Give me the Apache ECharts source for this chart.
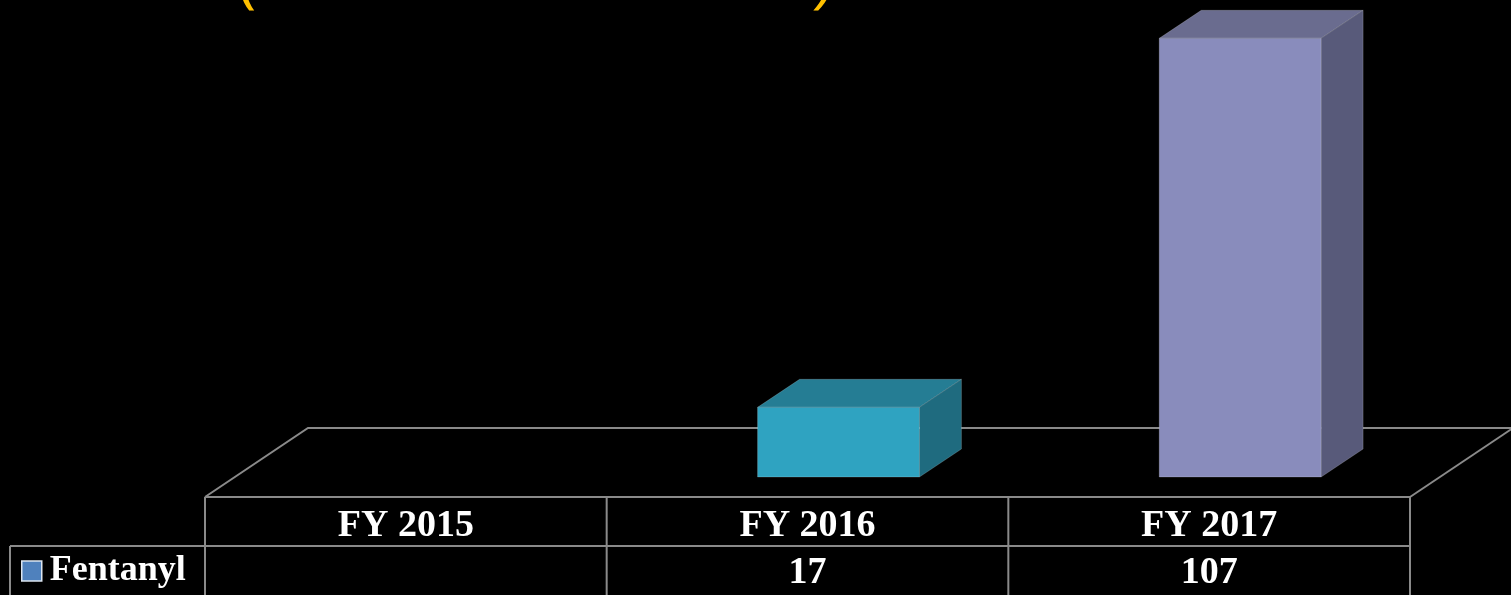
<!DOCTYPE html>
<html>
<head>
<meta charset="utf-8">
<script src="https://cdn.jsdelivr.net/npm/echarts@6/dist/echarts.min.js"></script>
<style>
html, body { margin: 0; padding: 0; background: #000; }
#main { width: 1511px; height: 595px; }
</style>
</head>
<body>
<div id="main"></div>
<script>
// data
var categories = ['FY 2015', 'FY 2016', 'FY 2017'];
var fentanyl = [null, 17, 107];
var seriesName = 'Fentanyl';

// bar colours (front / top / side) for each year
var frontColors = ['#4F81BD', '#2FA3C1', '#898CBC'];
var topColors = ['#3C6595', '#257D94', '#6A6C8F'];
var sideColors = ['#325478', '#1F6B7F', '#585A7A'];

var lineColor = '#8A8A8A';
var textFont = 'bold 38px "Liberation Serif", "Times New Roman", serif';

// 3d look
var floorDx = 103, floorDy = 69, floorDrop = 20;
var barDx = 42, barDy = 28, barShift = 31;
var rowH = 49;

// floor of the chart
function renderFloor(params, api) {
    var cs = params.coordSys;
    var zeroY = cs.y + cs.height;
    var fy = zeroY + floorDrop;
    var lx = cs.x, rx = cs.x + cs.width;
    var st = { stroke: lineColor, lineWidth: 2, fill: null };
    return {
        type: 'group',
        children: [
            { type: 'polyline', shape: { points: [[lx, fy], [lx + floorDx, fy - floorDy], [rx + floorDx, fy - floorDy]] }, style: st },
            { type: 'line', shape: { x1: rx, y1: fy, x2: rx + floorDx, y2: fy - floorDy }, style: st },
            { type: 'line', shape: { x1: lx, y1: fy, x2: rx, y2: fy }, style: st }
        ]
    };
}

// 3d bars
function renderBar(params, api) {
    var idx = api.value(0);
    var v = api.value(1);
    if (v == null || isNaN(v)) return;
    var base = api.coord([idx, 0]);
    var top = api.coord([idx, v]);
    var w = api.size([1, 0])[0] * 0.403;
    var x0 = base[0] + barShift - w / 2, x1 = x0 + w;
    var y0 = top[1], y1 = base[1];
    var edge = 'rgba(255,255,255,0.18)';
    return {
        type: 'group',
        children: [
            {
                type: 'polygon',
                shape: { points: [[x0, y0], [x0 + barDx, y0 - barDy], [x1 + barDx, y0 - barDy], [x1, y0]] },
                style: { fill: topColors[idx], stroke: edge, lineWidth: 1 }
            },
            {
                type: 'polygon',
                shape: { points: [[x1, y0], [x1 + barDx, y0 - barDy], [x1 + barDx, y1 - barDy], [x1, y1]] },
                style: { fill: sideColors[idx], stroke: edge, lineWidth: 1 }
            },
            {
                type: 'rect',
                shape: { x: x0, y: y0, width: w, height: y1 - y0 },
                style: { fill: frontColors[idx], stroke: edge, lineWidth: 1 }
            }
        ]
    };
}

// data table under the chart
function renderTable(params, api) {
    var idx = api.value(0);
    var v = api.value(1);
    var cs = params.coordSys;
    var c = api.coord([idx, 0]);
    var cw = api.size([1, 0])[0];
    var lx = c[0] - cw / 2, rx = c[0] + cw / 2;
    var top = cs.y + cs.height + floorDrop;
    var mid = top + rowH;
    var bot = mid + rowH + 4;
    var st = { stroke: lineColor, lineWidth: 2 };
    var kids = [
        { type: 'line', shape: { x1: lx, y1: top, x2: lx, y2: bot }, style: st },
        { type: 'line', shape: { x1: lx, y1: mid, x2: rx, y2: mid }, style: st },
        {
            type: 'text',
            style: { text: categories[idx], x: c[0], y: top + rowH / 2 + 5, fill: '#fff', font: textFont, textAlign: 'center', textVerticalAlign: 'middle' }
        },
        {
            type: 'text',
            style: { text: (v == null || isNaN(v)) ? '' : String(v), x: c[0], y: mid + rowH / 2 + 3, fill: '#fff', font: textFont, textAlign: 'center', textVerticalAlign: 'middle' }
        }
    ];
    if (idx === categories.length - 1) {
        kids.push({ type: 'line', shape: { x1: rx, y1: top, x2: rx, y2: bot }, style: st });
    }
    if (idx === 0) {
        // legend cell
        kids.push({ type: 'line', shape: { x1: 10, y1: mid, x2: lx, y2: mid }, style: st });
        kids.push({ type: 'line', shape: { x1: 10, y1: mid, x2: 10, y2: bot }, style: st });
    }
    return { type: 'group', children: kids };
}

var myChart = echarts.init(document.getElementById('main'));
myChart.setOption({
    backgroundColor: '#000',
    animation: false,
    grid: { left: 205, right: 101, top: 26, bottom: 118 },
    xAxis: { type: 'category', data: categories, show: false },
    yAxis: { type: 'value', min: 0, max: 110, show: false },
    legend: {
        data: [{ name: seriesName, itemStyle: { color: '#4F81BD', borderColor: '#DCE5F0', borderWidth: 1.5 } }],
        icon: 'rect',
        left: 21,
        top: 551,
        padding: 0,
        itemWidth: 20,
        itemHeight: 20,
        itemGap: 7,
        selectedMode: false,
        textStyle: { color: '#fff', fontFamily: '"Liberation Serif", "Times New Roman", serif', fontWeight: 'bold', fontSize: 36, lineHeight: 40, padding: [0, 0, 0, 3] }
    },
    graphic: [
        // title, cut off at the top of the slide
        { type: 'text', left: 238, top: -46, style: { text: '(', fill: '#FFC000', font: '60px "Noto Sans", sans-serif' } },
        { type: 'text', left: 818, top: -46, style: { text: ')', fill: '#FFC000', font: 'italic 60px "Noto Sans", sans-serif' } }
    ],
    series: [
        {
            type: 'custom',
            name: 'floor',
            renderItem: renderFloor,
            data: [[0]],
            z: 1,
            silent: true
        },
        {
            type: 'custom',
            name: seriesName,
            itemStyle: { color: '#4F81BD' },
            renderItem: renderBar,
            data: fentanyl.map(function (v, i) { return [i, v]; }),
            z: 3
        },
        {
            type: 'custom',
            name: 'table',
            renderItem: renderTable,
            data: fentanyl.map(function (v, i) { return [i, v]; }),
            z: 2,
            silent: true
        }
    ]
});
</script>
</body>
</html>
